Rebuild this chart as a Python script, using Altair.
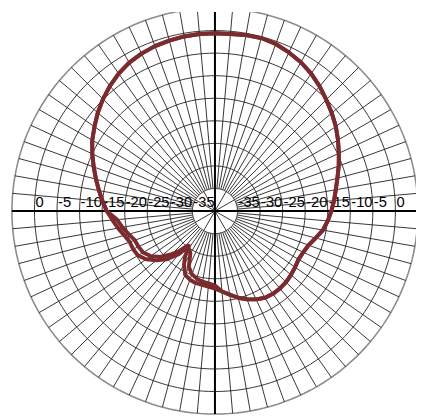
import altair as alt
import pandas as pd
import numpy as np

# ---- pattern data (angle in degrees clockwise from top, level in dB) ----
common_head_ang = [0, 5, 10, 15, 20, 25, 30, 35, 40, 45, 50, 55, 60, 65, 70, 75, 80, 85,
                   90, 95, 100, 105, 110, 115, 120, 125, 130, 135, 140, 145, 150, 155,
                   160, 165, 170, 175]
common_head_db = [-0.6, -0.6, -0.4, -0.3, -0.6, -1.2, -1.9, -2.8, -3.9, -5.1, -6.2, -7.3,
                  -8.5, -9.7, -10.8, -11.9, -12.8, -13.5, -14.2, -14.9, -15.7, -16.9,
                  -17.9, -18.4, -18.6, -18.3, -18.0, -17.7, -17.6, -17.6, -17.8, -18.4,
                  -19.2, -20.1, -21.2, -22.1]

a_mid_ang = [180, 185, 190, 195, 200, 205, 210, 213, 217, 220, 225, 230, 235, 240, 245,
             250, 255, 260, 265]
a_mid_db = [-22.8, -23.2, -23.4, -23.5, -23.8, -24.4, -26.3, -27.8, -30.4, -27.5, -24.9,
            -23.0, -21.4, -20.3, -20.0, -19.9, -19.2, -18.2, -17.2]

b_mid_ang = [180, 185, 190, 195, 200, 205, 210, 215, 219, 222, 225, 230, 235, 240, 245,
             250, 255, 260, 265]
b_mid_db = [-23.5, -23.9, -24.1, -24.5, -25.1, -26.3, -29.1, -29.9, -30.0, -28.0, -26.5,
            -24.2, -22.6, -21.6, -21.3, -21.1, -20.2, -19.2, -18.2]

common_tail_ang = [270, 275, 280, 285, 290, 295, 300, 305, 310, 315, 320, 325, 330, 335,
                   340, 345, 350, 355, 360]
common_tail_db = [-16.0, -15.0, -13.9, -12.7, -11.4, -10.0, -8.6, -7.4, -6.1, -4.9, -3.8,
                  -2.8, -2.0, -1.5, -1.1, -0.9, -0.7, -0.6, -0.6]

# ---- grid definitions ----
ring_levels = [-35, -30, -25, -20, -15, -10, -5, 0, 5]
left_labels = ["0", "-5", "-10", "-15", "-20", "-25", "-30", "-35"]
left_label_levels = [0, -5, -10, -15, -20, -25, -30, -35]
right_labels = ["-35", "-30", "-25", "-20", "-15", "-10", "-5", "0"]
right_label_levels = [-35, -30, -25, -20, -15, -10, -5, 0]

FLOOR = -40  # centre of the chart

# pattern table
rows = []
for name, angs, dbs in [
    ("A", common_head_ang + a_mid_ang + common_tail_ang, common_head_db + a_mid_db + common_tail_db),
    ("B", common_head_ang + b_mid_ang + common_tail_ang, common_head_db + b_mid_db + common_tail_db),
]:
    for i, (a, d) in enumerate(zip(angs, dbs)):
        rows.append({"series": name, "idx": i, "ang": a, "db": d})
pattern = pd.DataFrame(rows)

# rings table
ring_rows = []
for lev in ring_levels:
    for k, a in enumerate(range(0, 361, 2)):
        ring_rows.append({"ring": lev, "idx": k, "ang": a, "db": lev, "outer": lev == 5})
rings = pd.DataFrame(ring_rows)

# spokes
spoke_rows = []
for a in range(0, 360, 5):
    spoke_rows.append({"ang": a, "r0": 5, "r1": 45})
for a in range(0, 360, 30):
    spoke_rows.append({"ang": a, "r0": 0, "r1": 5})
spokes = pd.DataFrame(spoke_rows)

labels = pd.DataFrame(
    [{"text": t, "x": -(lv - FLOOR), "y": 0} for t, lv in zip(left_labels, left_label_levels)]
    + [{"text": t, "x": (lv - FLOOR), "y": 0} for t, lv in zip(right_labels, right_label_levels)]
)

axes_lines = pd.DataFrame([
    {"x": -45, "y": 0, "x2": 45, "y2": 0},
    {"x": 0, "y": -45, "x2": 0, "y2": 45},
])

PX = 4.6
W, H = 416, 412
CX, CY = 211, 203
xdom = [-CX / PX, (W - CX) / PX]
ydom = [-(H - CY) / PX, CY / PX]
xs = alt.Scale(domain=xdom, nice=False, zero=False)
ys = alt.Scale(domain=ydom, nice=False, zero=False)

polar_x = f"(datum.db - ({FLOOR})) * sin(datum.ang * PI / 180)"
polar_y = f"(datum.db - ({FLOOR})) * cos(datum.ang * PI / 180)"

ring_layer = alt.Chart(rings).transform_calculate(
    px=polar_x, py=polar_y
).mark_line(clip=True).encode(
    x=alt.X("px:Q", scale=xs, axis=None),
    y=alt.Y("py:Q", scale=ys, axis=None),
    detail="ring:N",
    order="idx:Q",
    color=alt.condition("datum.outer", alt.value("#8c8c8c"), alt.value("#1e1e1e")),
    strokeWidth=alt.condition("datum.outer", alt.value(1.6), alt.value(0.9)),
)

spoke_layer = alt.Chart(spokes).transform_calculate(
    sx="datum.r0 * sin(datum.ang * PI / 180)",
    sy="datum.r0 * cos(datum.ang * PI / 180)",
    ex="datum.r1 * sin(datum.ang * PI / 180)",
    ey="datum.r1 * cos(datum.ang * PI / 180)",
).mark_rule(color="#1e1e1e", strokeWidth=0.9, clip=True).encode(
    x=alt.X("sx:Q", scale=xs, axis=None),
    y=alt.Y("sy:Q", scale=ys, axis=None),
    x2="ex:Q",
    y2="ey:Q",
)

axis_layer = alt.Chart(axes_lines).mark_rule(color="#000000", strokeWidth=2, clip=True).encode(
    x=alt.X("x:Q", scale=xs, axis=None),
    y=alt.Y("y:Q", scale=ys, axis=None),
    x2="x2:Q",
    y2="y2:Q",
)

label_layer = alt.Chart(labels).mark_text(
    align="left", baseline="bottom", dx=1, dy=-1, fontSize=15,
    font="Liberation Sans", color="#000000"
).encode(
    x=alt.X("x:Q", scale=xs, axis=None),
    y=alt.Y("y:Q", scale=ys, axis=None),
    text="text:N",
)

pattern_layer = alt.Chart(pattern).transform_calculate(
    px=polar_x, py=polar_y
).mark_line(strokeWidth=4, color="#7b2a2d", strokeJoin="round").encode(
    x=alt.X("px:Q", scale=xs, axis=None),
    y=alt.Y("py:Q", scale=ys, axis=None),
    detail="series:N",
    order="idx:Q",
)

chart = alt.layer(
    ring_layer, spoke_layer, axis_layer, label_layer, pattern_layer
).properties(
    width=W, height=H, padding=0, autosize=alt.AutoSizeParams(type="none"),
    background="white",
).configure_view(strokeWidth=0)

chart.save("out.html", embed_options={"renderer": "svg", "actions": False})
